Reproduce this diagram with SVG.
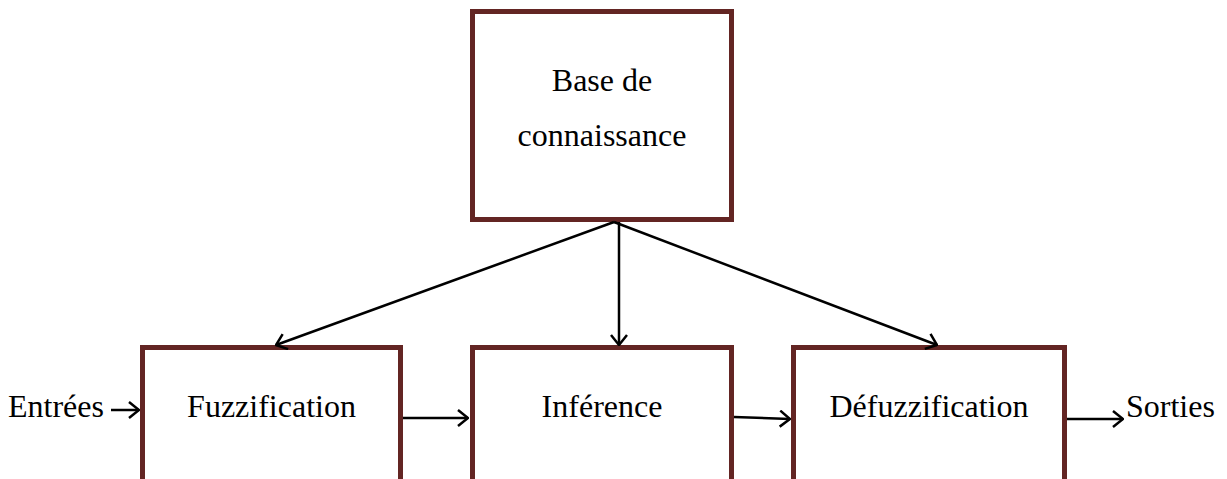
<svg xmlns="http://www.w3.org/2000/svg" width="1227" height="479" viewBox="0 0 1227 479">
  <style>
    .box { fill: #ffffff; stroke: #632523; stroke-width: 5; }
    .lbl { font-family: "Liberation Serif", "Times New Roman", serif; font-size: 32px; fill: #000000; }
    .mid { text-anchor: middle; }
    .edge { fill: none; stroke: #000000; stroke-width: 2.5; }
  </style>
  <defs>
    <marker id="arrow" viewBox="0 0 12 18" refX="11" refY="9" markerWidth="12" markerHeight="18" markerUnits="userSpaceOnUse" orient="auto">
      <path d="M1,1 L11,9 L1,17" fill="none" stroke="#000000" stroke-width="2.5"/>
    </marker>
  </defs>

  <rect width="1227" height="479" fill="#ffffff"/>

  <g id="base">
    <rect class="box" x="472.5" y="11.5" width="259" height="208"/>
    <text class="lbl mid" x="602" y="91">Base de</text>
    <text class="lbl mid" x="602" y="146">connaissance</text>
  </g>

  <g id="fuzzification">
    <rect class="box" x="142.5" y="347.5" width="258" height="208"/>
    <text class="lbl mid" x="271.5" y="417">Fuzzification</text>
  </g>

  <g id="inference">
    <rect class="box" x="472.5" y="347.5" width="259" height="208"/>
    <text class="lbl mid" x="602" y="417">Inférence</text>
  </g>

  <g id="defuzzification">
    <rect class="box" x="793.5" y="347.5" width="271" height="208"/>
    <text class="lbl mid" x="929" y="417">Défuzzification</text>
  </g>

  <g id="entrees">
    <text class="lbl" x="8" y="417">Entrées</text>
  </g>

  <g id="sorties">
    <text class="lbl" x="1126" y="417">Sorties</text>
  </g>

  <g id="connectors">
    <line class="edge" x1="614" y1="222" x2="276" y2="345" marker-end="url(#arrow)"/>
    <line class="edge" x1="619" y1="222" x2="619" y2="345" marker-end="url(#arrow)"/>
    <line class="edge" x1="614" y1="222" x2="937" y2="345" marker-end="url(#arrow)"/>
    <line class="edge" x1="111" y1="410" x2="139" y2="410" marker-end="url(#arrow)"/>
    <line class="edge" x1="403" y1="418" x2="468" y2="418" marker-end="url(#arrow)"/>
    <line class="edge" x1="734" y1="417" x2="790" y2="419" marker-end="url(#arrow)"/>
    <line class="edge" x1="1067" y1="419" x2="1123" y2="419" marker-end="url(#arrow)"/>
  </g>
</svg>
